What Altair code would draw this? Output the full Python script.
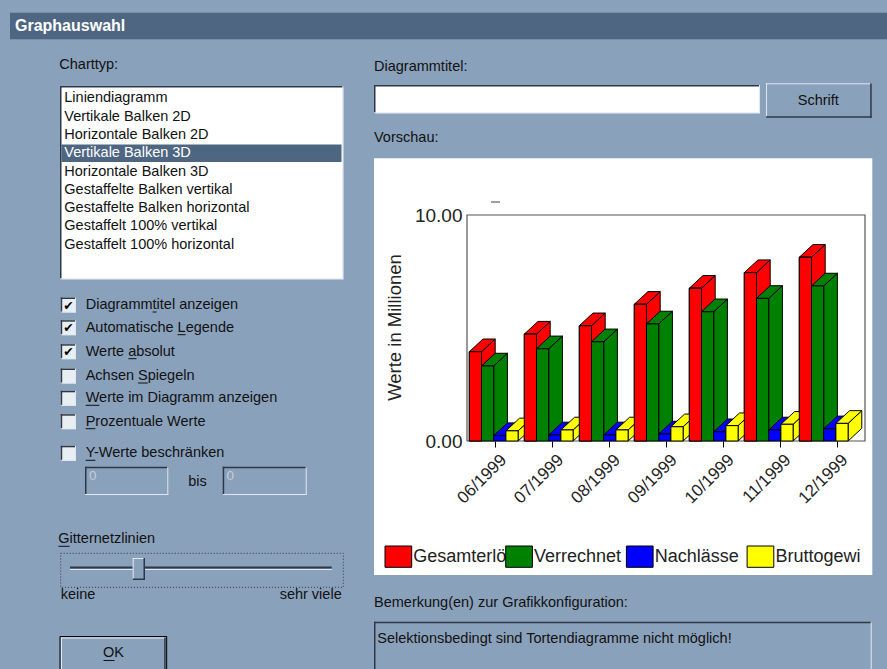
import json
import altair as alt
import pandas as pd

# ---------------- data ----------------
months = ["06/1999", "07/1999", "08/1999", "09/1999", "10/1999", "11/1999", "12/1999"]
series = ["Gesamterlöse", "Verrechnet", "Nachlässe", "Bruttogewinn"]
colors = ["#ff0000", "#008000", "#0000ff", "#ffff00"]
gesamterloese = [3.95, 4.73, 5.10, 6.05, 6.76, 7.45, 8.13]
verrechnet = [3.32, 4.08, 4.39, 5.18, 5.72, 6.31, 6.86]
nachlaesse = [0.24, 0.27, 0.27, 0.31, 0.41, 0.49, 0.54]
bruttogewinn = [0.45, 0.49, 0.49, 0.63, 0.68, 0.74, 0.78]
y_ticks = [0, 10]

chart_types = ["Liniendiagramm", "Vertikale Balken 2D", "Horizontale Balken 2D",
               "Vertikale Balken 3D", "Horizontale Balken 3D",
               "Gestaffelte Balken vertikal", "Gestaffelte Balken horizontal",
               "Gestaffelt 100% vertikal", "Gestaffelt 100% horizontal"]
selected_type = "Vertikale Balken 3D"
options = ["Diagrammtitel anzeigen", "Automatische Legende", "Werte absolut",
           "Achsen Spiegeln", "Werte im Diagramm anzeigen", "Prozentuale Werte",
           "Y-Werte beschränken"]
checked = [True, True, True, False, False, False, False]
# mnemonic (underlined) character index in each option label
mnemonic = [8, 13, 6, 7, 0, 0, 0]

rows = []
for gi, m in enumerate(months):
    for si, vals in enumerate([gesamterloese, verrechnet, nachlaesse, bruttogewinn]):
        rows.append({"month": m, "gi": gi, "series": series[si], "si": si, "value": vals[gi]})
df = pd.DataFrame(rows)

# ---------------- style / layout ----------------
FONT = "Liberation Sans"
BG = "#8aa1bb"
TITLEBAR = "#4e6682"
DARK = "#2c3846"
LIGHT = "#dfe8f1"
TXT = "#111111"

OX, OY = 467, 215          # plot origin on the canvas
PW, PH = 398, 226          # plot size
PITCH, X0, BW, DX, DY = 0.9673, 0.0405, 0.2146, 0.2409, 0.562

# Arial / Liberation Sans advance widths (per 1000 em) for underline placement
AW = {"D": 722, "i": 222, "a": 556, "g": 556, "r": 333, "m": 833, "t": 278, "e": 556,
      "l": 222, " ": 278, "n": 556, "z": 500, "A": 667, "u": 556, "o": 556, "s": 500,
      "c": 500, "h": 556, "L": 556, "W": 944, "b": 556, "S": 667, "p": 556, "P": 667,
      "Y": 667, "G": 778, "-": 333, "K": 667, "O": 778, "ä": 556, "k": 500, "d": 556}


def tw(s, size):
    return sum(AW.get(ch, 556) for ch in s) * size / 1000.0


xs = alt.Scale(domain=[0, 7], nice=False, zero=False)
ys = alt.Scale(domain=[0, 10], nice=False)
fill_enc = alt.Fill("series:N", scale=alt.Scale(domain=series, range=colors), legend=None)

label_expr = json.dumps(months) + "[floor(datum.value)]"
XAX = alt.Axis(values=[i + 0.5 for i in range(len(months))], labelExpr=label_expr, title=None,
               domain=False, grid=False, ticks=True, tickSize=6, tickColor="#000",
               labelAngle=-45, labelAlign="right", labelBaseline="middle", labelFontSize=17,
               labelFont=FONT, labelColor="#222", labelPadding=10, labelOffset=8, zindex=1,
               labelOverlap=False, labelFlush=False)
YAX = alt.Axis(values=y_ticks, format=".2f", title="Werte in Millionen", grid=False, ticks=False,
               domain=False, labelFontSize=19, labelFont=FONT, labelColor="#222", labelPadding=5,
               titleFontSize=18.5, titleFont=FONT, titleFontWeight="normal", titleColor="#222",
               titleAngle=270, titleX=-73, titleY=112, titleAlign="center", titleBaseline="middle",
               zindex=1, labelFlush=False, labelOverlap=False)

one = pd.DataFrame({"k": [0]})
layers = []


def P(x):
    return alt.value(x - OX)


def Q(y):
    return alt.value(y - OY)


def rect(x1, y1, x2, y2, **mk):
    layers.append(alt.Chart(one).mark_rect(**mk).encode(x=P(x1), x2=P(x2), y=Q(y1), y2=Q(y2)))


def hline(x1, x2, y, color, w=1):
    layers.append(alt.Chart(one).mark_rule(color=color, strokeWidth=w).encode(x=P(x1), x2=P(x2), y=Q(y)))


def vline(x, y1, y2, color, w=1):
    layers.append(alt.Chart(one).mark_rule(color=color, strokeWidth=w).encode(x=P(x), y=Q(y1), y2=Q(y2)))


def text(x, y, s, **mk):
    mk.setdefault("font", FONT)
    mk.setdefault("fontSize", 14.5)
    mk.setdefault("color", TXT)
    mk.setdefault("align", "left")
    mk.setdefault("baseline", "middle")
    layers.append(alt.Chart(one).mark_text(text=s, **mk).encode(x=P(x), y=Q(y)))


def underline(x, y, s, idx, size=14.5):
    x1 = x + tw(s[:idx], size)
    x2 = x1 + tw(s[idx], size)
    hline(x1, x2, y + 7, TXT, 1)


def sunken(x1, y1, x2, y2, fill):
    rect(x1, y1, x2, y2, fill=fill)
    hline(x1, x2, y1 + 0.75, DARK, 1.5)
    vline(x1 + 0.75, y1, y2, DARK, 1.5)
    hline(x1, x2, y2 - 0.5, LIGHT, 1)
    vline(x2 - 0.5, y1, y2, LIGHT, 1)


def raised(x1, y1, x2, y2, outer=False):
    rect(x1, y1, x2, y2, fill=BG)
    hline(x1, x2, y1 + 0.5, LIGHT, 1)
    vline(x1 + 0.5, y1, y2, LIGHT, 1)
    hline(x1, x2, y2 - 0.75, DARK, 1.5)
    vline(x2 - 0.75, y1, y2, DARK, 1.5)
    if outer:
        rect(x1 - 1, y1 - 1, x2 + 1, y2 + 1, filled=False, stroke="#000", strokeWidth=1)


# ---------------- dialog chrome ----------------
rect(10, 12.7, 887, 39.3, fill=TITLEBAR)
text(15, 26, "Graphauswahl", fontWeight="bold", fontSize=16, color="#ffffff")

text(59.3, 65, "Charttyp:")
sunken(60, 86, 343.3, 279.3, "#ffffff")
for i, ct in enumerate(chart_types):
    yc = 98.3 + 18.3 * i
    if ct == selected_type:
        rect(61.5, yc - 8.7, 341.5, yc + 8.7, fill=TITLEBAR)
        text(64.3, yc, ct, color="#ffffff")
    else:
        text(64.3, yc, ct)

opt_y = [305, 327.7, 351.7, 376, 398.3, 421.7, 453.3]
for lab, yc, chk, mi in zip(options, opt_y, checked, mnemonic):
    sunken(60.7, yc - 7.5, 76, yc + 7.5, "#e9eef3")
    if chk:
        text(68.6, yc + 0.5, "✔", font="DejaVu Sans", fontSize=12.5, align="center",
             color="#000", fontWeight="bold")
    text(85.7, yc, lab)
    underline(85.7, yc, lab, mi)

sunken(85, 466.7, 168.3, 495, BG)
text(89, 476, "0", color="#c4cdd8", fontSize=13.5)
text(188.3, 481.7, "bis")
sunken(222.7, 466.7, 306.7, 495, BG)
text(226.5, 476, "0", color="#c4cdd8", fontSize=13.5)

text(58.3, 539.3, "Gitternetzlinien")
underline(58.3, 539.3, "Gitternetzlinien", 0)
rect(60.7, 553.3, 343.3, 587.3, filled=False, stroke=DARK, strokeWidth=1, strokeDash=[1, 2])
hline(70, 331.7, 567.5, DARK, 2)
hline(70, 331.7, 569.5, LIGHT, 1)
raised(132.7, 558, 145, 580)
text(60.7, 595, "keine")
text(341.7, 595, "sehr viele", align="right")

raised(61, 637.5, 165.7, 690, outer=True)
text(113.5, 653.3, "OK", align="center")
hline(103.5, 114.5, 660.5, TXT, 1)

text(374, 66.7, "Diagrammtitel:")
sunken(374, 85, 760, 113.3, "#ffffff")
raised(766, 83.3, 871.7, 117.7, outer=False)
text(818.3, 100.7, "Schrift", align="center")
text(374, 138.3, "Vorschau:")
rect(374, 158.3, 872.3, 575, fill="#ffffff")

text(374, 603.3, "Bemerkung(en) zur Grafikkonfiguration:")
sunken(374, 621.7, 871.7, 690, BG)
text(377.3, 639.3, "Selektionsbedingt sind Tortendiagramme nicht möglich!")

# empty chart-title placeholder and plot frame
hline(491, 500, 202, "#444", 1)
rect(OX, OY, OX + PW, OY + PH, filled=False, stroke="#555", strokeWidth=1.2)

# ---------------- 3D bars ----------------
base = alt.Chart(df).transform_calculate(
    xl=f"{X0} + datum.gi*{PITCH} + datum.si*{BW}"
).transform_calculate(
    xr=f"datum.xl + {BW}",
    bid="datum.month + '|' + datum.series",
)


def front(si):
    return base.transform_filter(f"datum.si == {si}").mark_rect(
        stroke="#000", strokeWidth=1
    ).encode(
        x=alt.X("xl:Q", scale=xs, axis=XAX),
        x2="xr:Q",
        y=alt.Y("value:Q", scale=ys, axis=YAX),
        y2=alt.datum(0),
        fill=fill_enc,
    )


def side(si):
    return base.transform_filter(f"datum.si == {si}").transform_calculate(
        ks="[0, 1]"
    ).transform_flatten(["ks"], as_=["k"]).transform_calculate(
        sx=f"datum.xr + datum.k*{DX}",
        slo=f"datum.k*{DY}",
        shi=f"datum.value + datum.k*{DY}",
    ).mark_area(orient="vertical", stroke="#000", strokeWidth=1, interpolate="linear").encode(
        x=alt.X("sx:Q", scale=xs, axis=XAX),
        y=alt.Y("shi:Q", scale=ys, axis=YAX, stack=None),
        y2="slo:Q",
        detail="bid:N",
        fill=fill_enc,
    )


def top(si):
    return base.transform_filter(f"datum.si == {si}").transform_calculate(
        ks="[0, 1]"
    ).transform_flatten(["ks"], as_=["k"]).transform_calculate(
        yt=f"datum.value + datum.k*{DY}",
        xa=f"datum.xl + datum.k*{DX}",
        xb=f"datum.xr + datum.k*{DX}",
    ).mark_area(orient="horizontal", stroke="#000", strokeWidth=1, interpolate="linear").encode(
        y=alt.Y("yt:Q", scale=ys, axis=YAX),
        x=alt.X("xa:Q", scale=xs, axis=XAX, stack=None),
        x2="xb:Q",
        detail="bid:N",
        fill=fill_enc,
    )


for si in range(len(series)):
    layers += [side(si), top(si), front(si)]
layers.append(front(0))

# ---------------- legend ----------------
for i, (s, c) in enumerate(zip(series, colors)):
    x0 = 385 + 120.7 * i
    if i == len(series) - 1:
        text(x0 + 28.3, 556.7, s, fontSize=18, color="#222", limit=88, ellipsis="\u200b")
    else:
        text(x0 + 28.3, 556.7, s, fontSize=18, color="#222")
for i, (s, c) in enumerate(zip(series, colors)):
    x0 = 385 + 120.7 * i
    rect(x0, 546, x0 + 26.7, 567.3, fill=c, stroke="#000", strokeWidth=1)

chart = alt.layer(*layers).properties(
    width=PW, height=PH,
    padding={"left": OX, "top": OY, "right": 887 - OX - PW, "bottom": 669 - OY - PH},
    autosize=alt.AutoSizeParams(type="none"),
).configure(background=BG).configure_view(stroke=None)

chart.save("out.html", embed_options={"renderer": "svg", "actions": False})
